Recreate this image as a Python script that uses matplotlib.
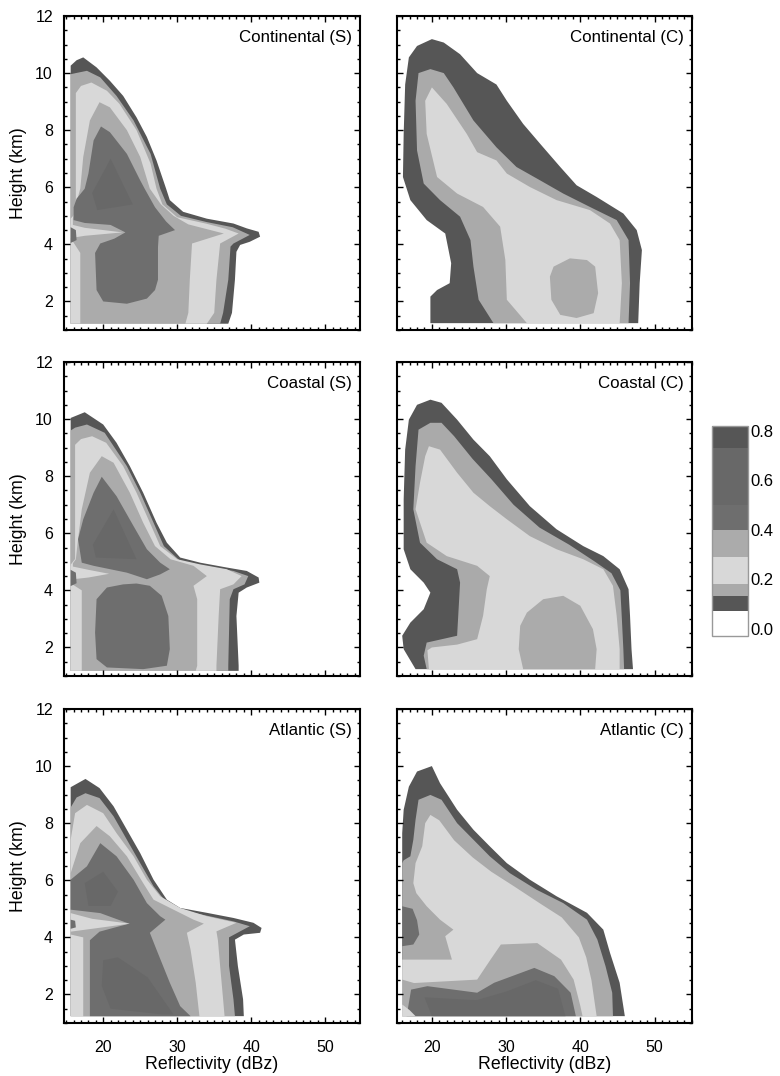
import numpy as np
import matplotlib.pyplot as plt
from matplotlib.colors import ListedColormap, BoundaryNorm
from matplotlib.cm import ScalarMappable
from matplotlib.ticker import MultipleLocator

plt.rcParams['font.family'] = ['Liberation Sans', 'DejaVu Sans']

# colour scale (frequency bands) as drawn in the key
levels = [-0.03, 0.07, 0.13, 0.18, 0.29, 0.40, 0.50, 0.73, 0.82]
band_colors = ['#ffffff', '#565656', '#aaaaaa', '#d8d8d8', '#ababab',
               '#6e6e6e', '#686868', '#565656']

# contour outlines: (band, reflectivity dBZ, height km)
cont_s = [
    (1, [15.6, 15.6, 16.4, 17.3, 19.1, 20.9, 22.7, 24.5, 25.9, 27.2, 28.5, 29.0, 30.8, 34.0, 37.6, 39.4, 41.0, 41.2, 39.8, 38.5, 38.0, 37.8, 37.4, 36.9],
        [1.22, 10.26, 10.45, 10.55, 10.2, 9.73, 9.2, 8.45, 7.76, 6.94, 5.95, 5.55, 5.14, 4.9, 4.73, 4.56, 4.44, 4.27, 4.09, 3.98, 3.74, 2.76, 1.6, 1.22]),
    (2, [15.6, 15.6, 16.3, 17.8, 19.6, 21.8, 24.1, 26.4, 27.7, 28.6, 30.5, 34.0, 37.5, 39.8, 37.6, 37.2, 36.9, 36.2, 35.8],
        [1.22, 9.96, 10.0, 10.08, 9.85, 9.2, 8.34, 7.17, 5.95, 5.4, 5.0, 4.78, 4.6, 4.33, 4.03, 3.92, 2.76, 1.6, 1.22]),
    (3, [15.6, 15.6, 16.3, 16.3, 17.0, 18.4, 20.5, 22.2, 24.5, 26.4, 27.2, 28.0, 30.0, 34.0, 36.5, 38.3, 35.8, 35.3, 35.0, 34.0],
        [1.22, 4.9, 5.1, 9.3, 9.55, 9.67, 9.38, 8.92, 8.0, 6.83, 5.95, 5.4, 4.95, 4.72, 4.55, 4.38, 4.03, 2.76, 1.6, 1.22]),
    (4, [19.5, 20.9, 23.2, 25.0, 26.3, 27.8, 29.5, 31.5, 36.3, 32.0, 31.7, 31.5, 31.1, 16.9, 16.9, 15.9, 15.9, 16.2, 16.9, 17.3, 18.2],
        [8.98, 8.8, 8.0, 7.06, 5.95, 5.4, 5.0, 4.7, 4.38, 4.03, 2.76, 1.6, 1.22, 1.22, 3.7, 4.1, 4.9, 5.3, 5.95, 7.06, 8.34]),
    (5, [19.7, 20.9, 23.2, 25.0, 25.6, 27.0, 28.5, 29.7, 27.5, 27.4, 27.4, 27.0, 25.9, 23.2, 20.0, 19.1, 18.9, 19.6, 21.5, 23.0, 21.0, 17.5, 16.0, 16.0, 16.4, 17.5, 18.0, 18.7],
        [8.13, 7.93, 7.17, 6.24, 5.95, 5.3, 4.8, 4.5, 4.3, 3.9, 2.76, 2.4, 2.1, 1.92, 2.0, 2.4, 3.7, 4.03, 4.2, 4.42, 4.68, 4.75, 4.85, 5.3, 5.6, 5.95, 6.48, 7.64]),
    (6, [21.0, 24.0, 19.2, 18.5], [7.0, 5.4, 5.2, 5.8]),
    (3, [15.6, 17.5, 22.6, 17.5, 15.6], [4.7, 4.58, 4.42, 4.3, 4.22]),
    (5, [15.6, 16.3, 16.4, 15.6], [4.6, 4.5, 4.15, 4.05]),
]

cont_c = [
    (1, [19.8, 19.8, 20.7, 22.4, 22.6, 21.8, 19.3, 17.1, 16.1, 16.2, 16.4, 16.9, 18.0, 20.0, 21.6, 23.8, 26.1, 28.7, 30.1, 32.3, 34.6, 37.3, 39.5, 42.2, 45.8, 47.6, 48.3, 48.0, 47.8],
        [1.24, 2.17, 2.4, 2.64, 3.34, 4.38, 4.85, 5.55, 6.36, 7.87, 9.6, 10.55, 10.95, 11.19, 11.07, 10.66, 10.0, 9.6, 9.03, 8.22, 7.52, 6.71, 6.07, 5.66, 5.08, 4.5, 3.8, 2.64, 1.24]),
    (2, [28.3, 26.3, 25.6, 25.2, 23.8, 21.1, 18.9, 18.0, 17.8, 18.2, 19.8, 21.6, 22.9, 25.6, 28.7, 31.4, 34.6, 37.7, 41.3, 44.9, 46.5, 46.7, 46.5],
        [1.24, 2.06, 3.22, 4.15, 4.97, 5.55, 6.13, 7.29, 9.03, 10.0, 10.14, 10.0, 9.5, 8.34, 7.4, 6.71, 6.24, 5.78, 5.31, 4.85, 4.15, 2.64, 1.24]),
    (3, [32.8, 30.1, 29.9, 29.2, 26.9, 23.4, 20.7, 19.3, 19.1, 20.0, 22.0, 24.7, 26.1, 28.7, 30.1, 33.2, 36.8, 41.3, 44.0, 45.3, 45.6, 45.3],
        [1.24, 2.06, 3.45, 4.62, 5.31, 5.78, 6.36, 7.87, 9.03, 9.5, 8.92, 7.87, 7.23, 6.94, 6.48, 6.01, 5.55, 5.2, 4.73, 4.15, 2.64, 1.24]),
    (4, [35.9, 36.4, 38.6, 40.9, 42.0, 42.4, 41.8, 39.5, 37.3, 36.1],
        [2.87, 3.22, 3.51, 3.45, 3.22, 2.29, 1.59, 1.42, 1.53, 2.06]),
]

coast_s = [
    (1, [15.6, 15.6, 17.5, 20.0, 21.8, 23.6, 25.4, 27.2, 28.6, 30.4, 33.1, 36.7, 39.4, 41.0, 41.1, 39.4, 38.3, 38.0, 38.3, 38.3],
        [1.18, 10.04, 10.24, 9.81, 9.17, 8.35, 7.42, 6.37, 5.67, 5.15, 4.97, 4.8, 4.68, 4.45, 4.27, 4.1, 3.92, 3.1, 1.36, 1.18]),
    (2, [15.6, 15.6, 16.2, 17.8, 20.2, 23.2, 25.0, 26.8, 28.2, 30.4, 33.5, 37.6, 39.6, 39.1, 37.6, 37.1, 36.9, 36.9],
        [1.18, 9.6, 9.7, 9.81, 9.52, 8.35, 7.42, 6.37, 5.55, 5.03, 4.86, 4.68, 4.5, 4.21, 4.04, 3.69, 1.36, 1.18]),
    (3, [15.6, 15.6, 16.2, 16.2, 17.0, 18.5, 20.4, 22.7, 24.5, 26.3, 27.7, 30.0, 33.1, 36.7, 38.7, 37.6, 35.8, 35.6, 35.3, 35.3],
        [1.18, 4.9, 5.1, 9.1, 9.3, 9.4, 9.17, 8.35, 7.42, 6.37, 5.55, 5.09, 4.91, 4.74, 4.5, 4.21, 4.04, 3.1, 1.36, 1.18]),
    (4, [19.8, 21.4, 23.6, 25.4, 27.0, 29.1, 32.2, 34.0, 32.2, 32.7, 32.7, 32.5, 17.1, 17.1, 15.9, 15.9, 16.3, 16.6, 17.1, 18.2],
        [8.7, 8.47, 7.42, 6.37, 5.55, 5.09, 4.86, 4.5, 4.16, 3.69, 1.36, 1.18, 1.18, 4.0, 4.2, 4.95, 5.09, 5.79, 6.84, 8.12]),
    (5, [19.8, 21.8, 24.1, 25.9, 27.7, 29.0, 27.7, 25.9, 23.2, 18.7, 17.1, 16.6, 17.3, 18.7],
        [7.98, 7.3, 6.25, 5.44, 4.97, 4.74, 4.56, 4.39, 4.62, 4.86, 4.97, 5.79, 6.49, 7.42]),
    (6, [21.4, 24.5, 19.0, 18.6], [6.84, 5.09, 5.15, 5.6]),
    (5, [22.7, 20.5, 19.1, 18.9, 19.1, 20.5, 25.4, 28.6, 29.0, 28.8, 27.9, 26.3, 24.5],
        [4.21, 4.1, 3.69, 2.52, 1.59, 1.3, 1.24, 1.36, 1.94, 3.1, 3.81, 4.16, 4.24]),
    (3, [15.6, 18.0, 20.8, 18.0, 15.6], [4.85, 4.72, 4.58, 4.45, 4.38]),
    (5, [15.6, 16.3, 16.4, 15.6], [4.72, 4.62, 4.25, 4.15]),
]

coast_c = [
    (1, [17.8, 16.2, 16.0, 17.1, 18.9, 19.8, 18.9, 17.1, 16.2, 16.2, 16.4, 16.9, 18.0, 19.8, 21.3, 23.4, 25.6, 27.8, 30.1, 33.2, 36.8, 40.4, 43.1, 45.3, 46.5, 46.7, 46.9, 47.1],
        [1.24, 1.94, 2.41, 2.87, 3.34, 3.92, 4.27, 4.74, 5.44, 7.19, 8.93, 9.98, 10.5, 10.68, 10.57, 9.98, 9.28, 8.7, 7.89, 6.95, 6.14, 5.55, 5.2, 4.74, 4.04, 3.11, 1.94, 1.24]),
    (2, [19.3, 18.9, 19.3, 23.4, 23.6, 23.8, 23.4, 20.7, 18.4, 17.5, 17.8, 18.2, 19.8, 21.3, 23.0, 25.5, 28.0, 31.0, 34.5, 38.5, 42.0, 44.2, 45.4, 45.6, 45.8, 45.9],
        [1.24, 1.71, 2.17, 2.41, 3.34, 4.27, 4.74, 5.09, 5.67, 6.84, 8.35, 9.63, 9.87, 9.87, 9.4, 8.6, 7.9, 7.0, 6.2, 5.6, 5.0, 4.6, 4.0, 3.0, 1.94, 1.24]),
    (3, [19.6, 19.4, 20.0, 23.4, 26.1, 26.9, 27.4, 27.8, 26.1, 22.0, 19.3, 17.8, 18.4, 19.1, 19.6, 21.1, 23.4, 25.6, 27.8, 30.1, 33.2, 36.8, 40.4, 43.1, 44.4, 44.9, 45.3, 45.3],
        [1.24, 1.9, 2.0, 2.1, 2.29, 3.11, 4.04, 4.5, 4.86, 5.2, 5.67, 6.84, 7.77, 8.7, 9.05, 8.93, 8.12, 7.42, 6.95, 6.49, 5.9, 5.44, 5.09, 4.74, 4.16, 3.11, 1.94, 1.24]),
    (4, [31.9, 32.8, 35.0, 37.7, 40.0, 41.7, 42.2, 42.0, 32.3, 31.7],
        [2.76, 3.22, 3.69, 3.81, 3.46, 2.64, 1.94, 1.24, 1.24, 1.94]),
]

atl_s = [
    (1, [15.6, 15.6, 17.6, 19.5, 21.4, 23.2, 25.0, 26.8, 28.6, 30.4, 34.0, 37.6, 40.3, 41.4, 41.2, 39.0, 37.8, 38.2, 38.9, 39.0],
        [1.24, 9.26, 9.55, 9.23, 8.59, 7.77, 6.95, 6.02, 5.32, 5.03, 4.86, 4.68, 4.51, 4.33, 4.16, 4.1, 3.92, 2.99, 1.83, 1.24]),
    (2, [15.6, 15.6, 16.4, 17.6, 19.5, 21.4, 23.2, 25.0, 26.8, 28.6, 31.3, 37.6, 39.8, 38.5, 37.0, 37.0, 37.6, 37.8],
        [1.24, 8.55, 8.9, 9.05, 8.88, 8.24, 7.42, 6.6, 5.79, 5.2, 4.91, 4.56, 4.39, 4.21, 4.0, 3.0, 1.83, 1.24]),
    (3, [15.6, 15.6, 16.2, 17.8, 20.0, 21.8, 24.1, 25.9, 27.7, 30.4, 34.0, 38.0, 35.3, 35.5, 35.8, 36.2, 36.4],
        [1.24, 7.42, 8.35, 8.64, 8.35, 7.65, 6.84, 6.02, 5.44, 5.03, 4.74, 4.51, 4.21, 3.9, 2.99, 1.83, 1.24]),
    (4, [19.1, 20.9, 23.2, 25.4, 26.8, 29.5, 32.2, 33.6, 31.3, 31.8, 32.5, 33.0, 17.3, 17.3, 15.6, 15.6, 16.9],
        [7.9, 7.54, 6.84, 5.9, 5.32, 4.97, 4.62, 4.48, 4.16, 3.57, 2.41, 1.24, 1.24, 4.0, 4.1, 6.25, 7.3]),
    (5, [19.6, 21.8, 24.1, 25.9, 27.7, 28.4, 26.3, 27.2, 29.0, 30.4, 31.8, 18.2, 18.2, 19.5, 23.5, 19.6, 15.6, 15.6, 17.8],
        [7.3, 6.84, 6.02, 5.2, 4.74, 4.62, 4.16, 3.57, 2.41, 1.59, 1.24, 1.24, 3.9, 4.2, 4.48, 4.85, 4.97, 6.02, 6.49]),
    (6, [17.5, 20.0, 22.0, 21.0, 18.0], [5.9, 6.3, 5.6, 5.1, 5.1]),
    (6, [20.0, 22.0, 26.0, 29.5, 28.0, 21.0, 19.8], [3.2, 3.3, 2.6, 1.3, 1.3, 1.5, 2.3]),
    (3, [15.6, 18.5, 23.6, 18.5, 15.6], [4.85, 4.65, 4.48, 4.3, 4.2]),
    (5, [15.6, 16.2, 16.3, 15.6], [4.62, 4.58, 4.35, 4.3]),
]

atl_c = [
    (1, [16.0, 16.0, 16.2, 16.9, 18.0, 20.0, 21.1, 23.4, 25.6, 27.8, 30.1, 33.2, 36.8, 40.9, 43.1, 44.0, 45.3, 46.0],
        [1.24, 7.65, 8.47, 9.28, 9.81, 10.0, 9.4, 8.47, 7.77, 7.19, 6.6, 6.02, 5.44, 4.86, 4.27, 3.46, 2.41, 1.24]),
    (2, [16.0, 16.0, 16.2, 17.1, 17.5, 17.8, 18.2, 19.8, 21.3, 23.4, 25.6, 27.8, 30.5, 34.1, 37.7, 40.9, 42.3, 43.4, 44.3, 44.4],
        [1.24, 6.6, 6.7, 6.84, 7.42, 8.12, 8.82, 8.99, 8.82, 8.0, 7.42, 6.84, 6.25, 5.67, 5.2, 4.62, 3.92, 2.99, 2.06, 1.24]),
    (3, [16.0, 16.0, 22.7, 21.8, 22.9, 21.1, 19.3, 17.9, 17.5, 17.8, 18.7, 19.1, 19.8, 21.0, 23.0, 25.5, 28.0, 31.0, 34.5, 37.5, 39.8, 40.8, 41.5, 42.2],
        [1.24, 3.22, 3.22, 4.04, 4.27, 4.62, 5.09, 5.55, 5.9, 6.6, 7.19, 8.0, 8.29, 8.1, 7.4, 6.8, 6.3, 5.8, 5.2, 4.7, 4.0, 3.3, 2.5, 1.24]),
    (4, [16.0, 16.0, 17.6, 26.1, 27.9, 29.3, 34.2, 37.4, 39.1, 40.0, 40.3],
        [1.24, 2.52, 2.4, 2.52, 3.22, 3.75, 3.8, 3.22, 2.52, 1.6, 1.24]),
    (5, [16.6, 17.2, 19.4, 26.1, 28.4, 33.8, 36.5, 38.7, 39.4],
        [1.24, 2.17, 2.29, 2.06, 2.41, 2.93, 2.64, 2.06, 1.24]),
    (6, [19.0, 26.0, 30.0, 34.0, 37.0, 38.0, 20.0], [1.9, 1.8, 2.1, 2.5, 2.2, 1.24, 1.24]),
    (5, [16.0, 17.4, 18.0, 18.3, 17.5, 16.0], [5.09, 5.0, 4.6, 4.1, 3.75, 3.69]),
    (3, [16.0, 16.0, 17.0, 17.8], [1.24, 1.65, 1.45, 1.24]),
]

panels = [
    (cont_s, 'Continental (S)'), (cont_c, 'Continental (C)'),
    (coast_s, 'Coastal (S)'), (coast_c, 'Coastal (C)'),
    (atl_s, 'Atlantic (S)'), (atl_c, 'Atlantic (C)'),
]

W, H = 780, 1076
fig = plt.figure(figsize=(W / 100, H / 100), dpi=100)

col_left = [64, 397]
col_width = [296, 295]
col_xlim = [(14.7, 54.7), (15.3, 55.05)]
row_top = [16, 362, 709]
row_height = 314

for i, (layers, name) in enumerate(panels):
    r, c = divmod(i, 2)
    ax = fig.add_axes([col_left[c] / W, 1 - (row_top[r] + row_height) / H,
                       col_width[c] / W, row_height / H])
    for band, z, h in layers:
        ax.fill(z, h, color=band_colors[band], lw=0)
    ax.set_xlim(*col_xlim[c])
    ax.set_ylim(1, 12)
    ax.xaxis.set_major_locator(MultipleLocator(10))
    ax.xaxis.set_minor_locator(MultipleLocator(1))
    ax.yaxis.set_major_locator(MultipleLocator(2))
    ax.yaxis.set_minor_locator(MultipleLocator(0.5))
    ax.tick_params(which='both', direction='in', top=True, right=True,
                   labelsize=11.5, width=1.0)
    ax.tick_params(axis='x', pad=12)
    ax.tick_params(axis='y', pad=8)
    ax.tick_params(which='major', length=4)
    ax.tick_params(which='minor', length=2)
    for s in ax.spines.values():
        s.set_linewidth(1.5)
    ax.text(0.972, 0.93, name, transform=ax.transAxes, ha='right',
            va='center', fontsize=12.2)
    if c == 0:
        ax.set_ylabel('Height (km)', fontsize=12.8, labelpad=6)
    else:
        ax.tick_params(labelleft=False)
    if r == 2:
        ax.set_xlabel('Reflectivity (dBz)', fontsize=12.8, labelpad=1)
    else:
        ax.tick_params(labelbottom=False)

# key
cax = fig.add_axes([712 / W, 1 - 636 / H, 36 / W, 210 / H])
sm = ScalarMappable(norm=BoundaryNorm(levels, len(band_colors)),
                    cmap=ListedColormap(band_colors))
cb = fig.colorbar(sm, cax=cax, spacing='proportional',
                  ticks=[0.0, 0.2, 0.4, 0.6, 0.8], format='%.1f')
cb.outline.set_edgecolor('#999999')
cb.outline.set_linewidth(1.0)
cax.minorticks_off()
cax.tick_params(length=0, labelsize=12, pad=2)

plt.savefig('out.png', dpi=100)
